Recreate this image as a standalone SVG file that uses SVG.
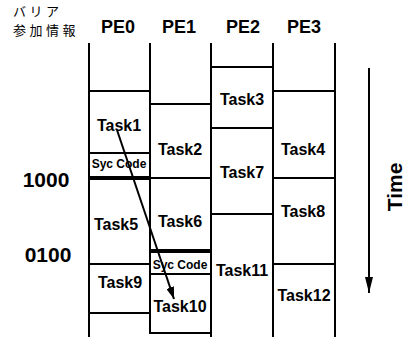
<svg xmlns="http://www.w3.org/2000/svg" width="406" height="337" viewBox="0 0 406 337">
<defs>
<style>
.ln{stroke:#000;stroke-width:2;fill:none}
.thk{stroke:#000;stroke-width:4;fill:none}
.t{font-family:"Liberation Sans",Arial,sans-serif;font-weight:bold;font-size:16px;fill:#000;text-anchor:middle}
.sc{font-family:"Liberation Sans",Arial,sans-serif;font-weight:bold;font-size:12px;fill:#000;text-anchor:middle}
.h{font-family:"Liberation Sans",Arial,sans-serif;font-weight:bold;font-size:18px;fill:#000;text-anchor:middle}
.n{font-family:"Liberation Sans",Arial,sans-serif;font-weight:bold;font-size:21px;fill:#000;text-anchor:middle}
.jp{font-family:"Noto Sans CJK JP","Noto Sans",sans-serif;font-size:13px;fill:#000;letter-spacing:3.5px}
</style>
<marker id="ah" viewBox="0 0 12 8" refX="12" refY="4" markerWidth="12" markerHeight="8" markerUnits="userSpaceOnUse" orient="auto">
<path d="M0,0 L12,4 L0,8 Z" fill="#000"/>
</marker>
<marker id="ah2" viewBox="0 0 16 8" refX="16" refY="4" markerWidth="16" markerHeight="8" markerUnits="userSpaceOnUse" orient="auto">
<path d="M0,0 L16,4 L0,8 Z" fill="#000"/>
</marker>
</defs>
<rect width="406" height="337" fill="#fff"/>
<g id="header">
<text class="jp" x="13" y="15.5">バリア</text>
<text class="jp" x="13" y="35">参加情報</text>
<text class="h" x="118" y="33">PE0</text>
<text class="h" x="179" y="33">PE1</text>
<text class="h" x="243" y="33">PE2</text>
<text class="h" x="304" y="33">PE3</text>
</g>
<g id="barrier-labels">
<text class="n" x="46" y="187">1000</text>
<text class="n" x="48" y="262">0100</text>
</g>
<g id="lanes">
<line class="ln" x1="89" y1="43" x2="89" y2="337"/>
<line class="ln" x1="150" y1="43" x2="150" y2="334"/>
<line class="ln" x1="211" y1="43" x2="211" y2="337"/>
<line class="ln" x1="273" y1="43" x2="273" y2="337"/>
<line class="ln" x1="335" y1="43" x2="335" y2="337"/>
</g>
<g id="task1"><line class="ln" x1="89" y1="91" x2="150" y2="91"/><text class="t" x="119" y="131">Task1</text></g>
<g id="syc0"><line class="ln" x1="89" y1="153" x2="150" y2="153"/><text class="sc" x="119" y="168">Syc Code</text><line class="thk" x1="89" y1="178" x2="150" y2="178"/></g>
<g id="task5"><text class="t" x="116" y="230">Task5</text></g>
<g id="task9"><line class="ln" x1="89" y1="264" x2="150" y2="264"/><text class="t" x="120" y="288">Task9</text><line class="ln" x1="89" y1="313" x2="150" y2="313"/></g>
<g id="task2"><line class="ln" x1="150" y1="104" x2="211" y2="104"/><text class="t" x="180" y="155">Task2</text></g>
<g id="task6"><line class="ln" x1="150" y1="178" x2="211" y2="178"/><text class="t" x="180" y="227">Task6</text></g>
<g id="syc1"><line class="thk" x1="150" y1="251" x2="211" y2="251"/><text class="sc" x="180" y="269">Syc Code</text><line class="ln" x1="150" y1="274" x2="211" y2="274"/></g>
<g id="task10"><text class="t" x="180" y="312">Task10</text><line class="ln" x1="150" y1="333" x2="211" y2="333"/></g>
<g id="task3"><line class="ln" x1="211" y1="67" x2="273" y2="67"/><text class="t" x="242" y="105">Task3</text></g>
<g id="task7"><line class="ln" x1="211" y1="128" x2="273" y2="128"/><text class="t" x="242" y="178">Task7</text></g>
<g id="task11"><line class="ln" x1="211" y1="214" x2="273" y2="214"/><text class="t" x="242" y="276">Task11</text></g>
<g id="task4"><line class="ln" x1="273" y1="91" x2="335" y2="91"/><text class="t" x="303" y="155">Task4</text></g>
<g id="task8"><line class="ln" x1="273" y1="178" x2="335" y2="178"/><text class="t" x="303" y="217">Task8</text></g>
<g id="task12"><line class="ln" x1="273" y1="264" x2="335" y2="264"/><text class="t" x="304" y="301">Task12</text></g>
<g id="connectors">
<line class="ln" x1="117" y1="130" x2="174" y2="299" marker-end="url(#ah)"/>
<line class="ln" x1="369" y1="68" x2="369" y2="293" marker-end="url(#ah2)"/>
</g>
<g id="time"><text class="n" transform="translate(402,187) rotate(-90)">Time</text></g>
</svg>
